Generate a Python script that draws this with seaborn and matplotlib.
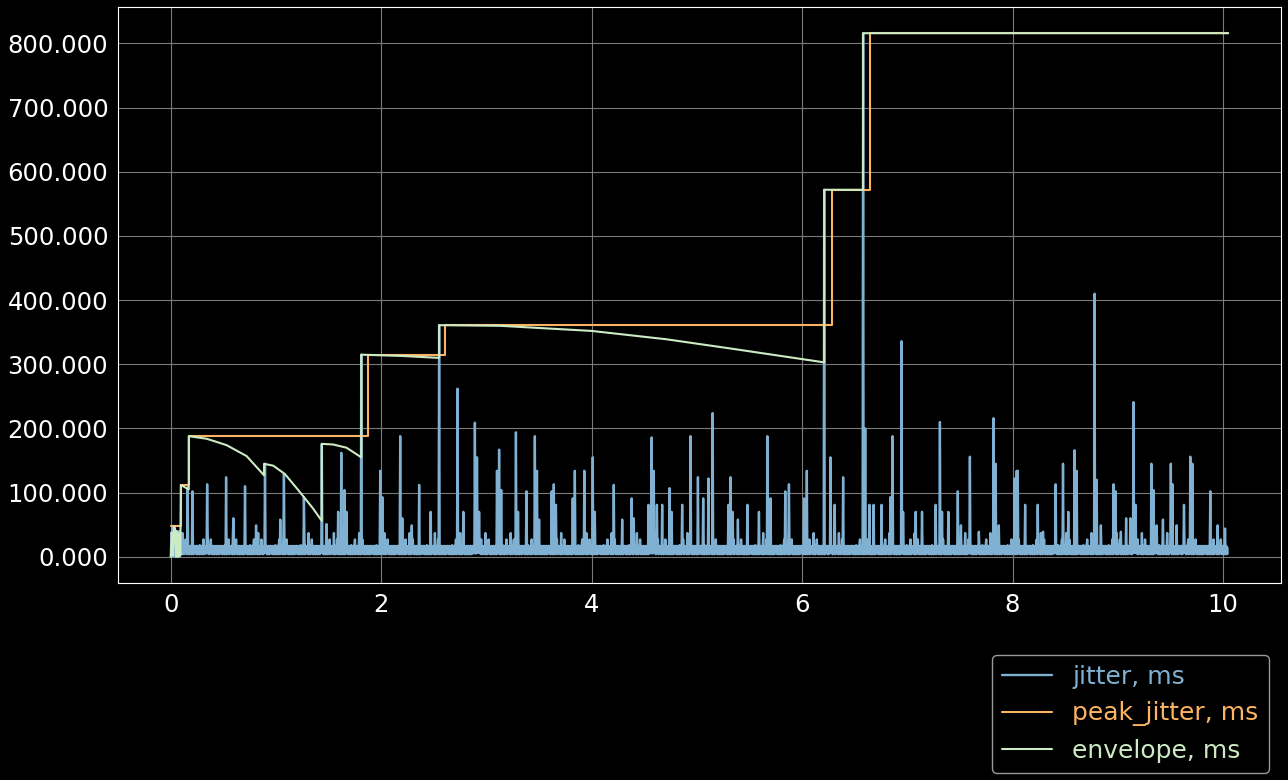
import numpy as np
import matplotlib
matplotlib.use("Agg")
import matplotlib.pyplot as plt
import seaborn as sns
from matplotlib.ticker import FormatStrFormatter

# sampling of the jitter trace, seconds
sample_step = 0.005
duration = 10.05

# noise floor of the jitter trace, ms (repeats along the trace)
floor_pattern = [6, 17, 4, 16, 5, 17, 4, 18, 6, 15, 4, 17, 5, 16, 27, 4,
                 17, 6, 16, 5, 17, 4, 37, 5, 16, 4, 17, 6, 27, 5, 17, 4,
                 16, 5, 17, 4, 16, 6, 17, 4, 15, 5, 17, 4, 16, 6, 17, 5]

# start of the trace, before the first frames arrive, ms
start_values = [0, 38, 2, 48, 40, 0, 38, 2, 36, 0, 40, 2, 38, 0, 36, 2,
                40, 0, 38]

# jitter spikes: time (s) and value (ms)
spike_t = [0.16, 0.206, 0.345, 0.523, 0.593, 0.707, 0.81, 0.894, 1.04, 1.077,
           1.264, 1.435, 1.48, 1.59, 1.62, 1.65, 1.67, 1.81, 1.99, 2.01,
           2.18, 2.2, 2.29, 2.36, 2.47, 2.55, 2.725, 2.78, 2.89, 2.91,
           2.93, 3.1, 3.12, 3.14, 3.28, 3.3, 3.38, 3.46, 3.48, 3.5,
           3.62, 3.64, 3.66, 3.82, 3.84, 3.93, 4.01, 4.03, 4.21, 4.29,
           4.38, 4.4, 4.54, 4.57, 4.59, 4.62, 4.67, 4.74, 4.76, 4.86,
           4.94, 5.01, 5.06, 5.11, 5.15, 5.3, 5.32, 5.34, 5.39, 5.48,
           5.59, 5.67, 5.7, 5.84, 5.875, 6.02, 6.045, 6.21, 6.27, 6.31,
           6.39, 6.58, 6.6, 6.64, 6.68, 6.755, 6.84, 6.86, 6.945, 6.96,
           7.08, 7.14, 7.27, 7.31, 7.33, 7.39, 7.48, 7.51, 7.595, 7.68,
           7.82, 7.84, 7.87, 8.02, 8.04, 8.05, 8.12, 8.24, 8.29, 8.41,
           8.48, 8.53, 8.59, 8.61, 8.78, 8.8, 8.84, 8.96, 8.98, 9.03,
           9.08, 9.12, 9.15, 9.17, 9.32, 9.34, 9.37, 9.43, 9.505, 9.52,
           9.56, 9.63, 9.69, 9.71, 9.88, 9.95, 10.02]
spike_v = [108, 102, 113, 124, 60, 110, 49, 145, 58, 129,
           93, 176, 51, 70, 162, 104, 70, 315, 134, 93,
           188, 60, 49, 112, 70, 361, 262, 70, 209, 155,
           70, 134, 167, 104, 194, 70, 102, 188, 134, 58,
           102, 113, 81, 91, 134, 134, 155, 70, 112, 58,
           91, 60, 81, 186, 134, 81, 81, 107, 70, 81,
           188, 124, 91, 122, 224, 81, 124, 70, 58, 81,
           70, 188, 91, 102, 113, 91, 134, 572, 155, 81,
           124, 816, 200, 81, 81, 81, 93, 188, 336, 70,
           70, 70, 81, 210, 70, 70, 102, 49, 156, 39,
           216, 145, 49, 122, 134, 134, 81, 81, 39, 113,
           145, 70, 166, 134, 410, 120, 49, 113, 102, 39,
           60, 60, 241, 81, 145, 104, 49, 58, 145, 113,
           49, 81, 156, 145, 102, 49, 44]

# peak jitter, held until the next larger spike
peak_t = [0.0, 0.095, 0.17, 1.876, 2.61, 6.28, 6.645, 10.05]
peak_v = [48, 112, 188, 315, 361, 572, 816, 816]

# decaying envelope, ms
env_t = [0.0, 0.01, 0.02, 0.03, 0.04, 0.05, 0.06, 0.07, 0.08, 0.09,
         0.095, 0.17, 0.17, 0.34, 0.53, 0.72, 0.886, 0.886, 0.973, 1.084,
         1.226, 1.353, 1.435, 1.435, 1.543, 1.67, 1.81, 1.81, 2.2, 2.55,
         2.55, 3.13, 4.0, 4.71, 5.345, 6.21, 6.21, 6.58, 6.58, 10.05]
env_v = [0, 38, 2, 48, 44, 0, 40, 0, 36, 2,
         112, 105, 188, 184, 174, 157, 127, 145, 142, 129,
         101, 75, 56, 176, 175, 170, 155, 315, 313, 310,
         361, 360, 352, 339, 324, 303, 572, 572, 816, 816]

# build the jitter trace from the floor and the spikes
t = np.round(np.arange(0, duration, sample_step), 3)
jitter = np.resize(np.array(floor_pattern, dtype=float), t.size)
jitter[:len(start_values)] = start_values
for st, sv in zip(spike_t, spike_v):
    jitter[int(round(st / sample_step))] = sv

plt.style.use("dark_background")
sns.set_style("dark", {"axes.facecolor": "black", "figure.facecolor": "black"})
plt.rcParams["font.family"] = ["DejaVu Sans"]

fig = plt.figure(figsize=(12.88, 7.8), dpi=100)
ax = fig.add_axes([0.0916, 0.2526, 0.903, 0.7384])
ax.set_facecolor("black")

sns.lineplot(x=t, y=jitter, ax=ax, color="#81b1d2", linewidth=1.7,
             estimator=None, sort=False, label="jitter, ms")
sns.lineplot(x=peak_t, y=peak_v, ax=ax, color="#fdb462", linewidth=1.5,
             estimator=None, sort=False, drawstyle="steps-post",
             label="peak_jitter, ms")
sns.lineplot(x=env_t, y=env_v, ax=ax, color="#ccebc4", linewidth=1.5,
             estimator=None, sort=False, label="envelope, ms")

ax.margins(x=0.05, y=0.05)
ax.yaxis.set_major_formatter(FormatStrFormatter("%.3f"))
ax.set_yticks(np.arange(0, 801, 100))
ax.set_xticks(np.arange(0, 11, 2))
ax.tick_params(labelsize=17.5, colors="white", length=3.5)
ax.grid(True, color="#7a7a7a", linewidth=0.8)
for sp in ax.spines.values():
    sp.set_color("white")
    sp.set_linewidth(0.8)

handles, labels = ax.get_legend_handles_labels()
ax.get_legend().remove()
fig.legend(handles, labels, loc="lower right", bbox_to_anchor=(0.985, 0.009),
           borderaxespad=0, fontsize=18, labelcolor="linecolor",
           facecolor="black", edgecolor="#999999", framealpha=1)

fig.savefig("out.png", dpi=100, facecolor="black")
